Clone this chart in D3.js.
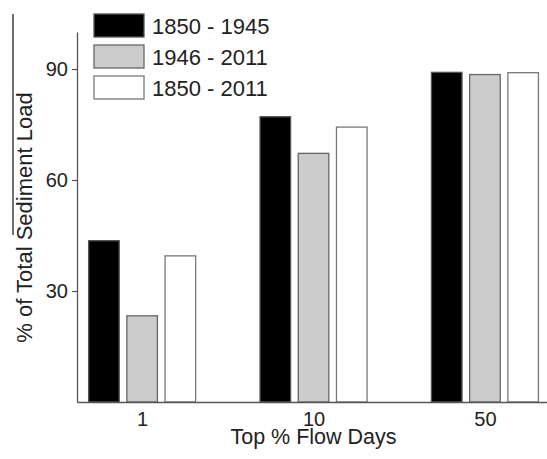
<!DOCTYPE html>
<html>
<head>
<meta charset="utf-8">
<script src="https://cdn.jsdelivr.net/npm/d3@7"></script>
<style>
  html, body { margin: 0; padding: 0; background: #fff; }
  svg { display: block; font-family: "Liberation Sans", Arial, sans-serif; }
</style>
</head>
<body>
<div id="chart"></div>
<script>
// data
var categories = ["1", "10", "50"];
var seriesNames = ["1850 - 1945", "1946 - 2011", "1850 - 2011"];
var early = [43.6, 77.1, 89.1];
var late = [23.3, 67.2, 88.5];
var full = [39.5, 74.3, 89.0];
var yTicks = [30, 60, 90];

var fills = ["#000000", "#cccccc", "#ffffff"];
var strokes = ["#555555", "#666666", "#777777"];

var width = 547, height = 459;
var plotLeft = 77, plotBottom = 402, plotTop = 32;
var groupStep = 171.4;

var svg = d3.select("#chart")
  .append("svg")
  .attr("width", width)
  .attr("height", height);

/* Scales */
var x = d3.scaleLinear()
  .domain([0.62, 3.5])
  .range([plotLeft, plotLeft + 2.88 * groupStep]);

var x1 = d3.scaleBand()
  .domain(d3.range(seriesNames.length))
  .range([-53.5, 53.5])
  .paddingInner(0.2)
  .paddingOuter(0);

var y = d3.scaleLinear()
  .domain([0, 100])
  .range([plotBottom, plotTop]);

var series = [early, late, full];

/* Bars */
var groups = svg.append("g")
  .selectAll("g")
  .data(categories)
  .enter()
  .append("g")
  .attr("transform", (d, i) => `translate(${x(i + 1)},0)`);

groups.selectAll("rect")
  .data((d, i) => series.map((s, k) => ({ k: k, v: s[i] })))
  .enter()
  .append("rect")
  .attr("x", d => x1(d.k))
  .attr("width", x1.bandwidth())
  .attr("y", d => y(d.v))
  .attr("height", d => y(0) - y(d.v))
  .attr("fill", d => fills[d.k])
  .attr("stroke", d => strokes[d.k])
  .attr("stroke-width", 1.3);

/* Axes */
var yAxis = d3.axisLeft(y).tickValues(yTicks).tickSize(5).tickSizeOuter(0).tickPadding(4);
var xAxis = d3.axisBottom(x).tickValues([1, 2, 3])
  .tickFormat((d, i) => categories[i])
  .tickSize(0).tickSizeOuter(0).tickPadding(10);

var gy = svg.append("g")
  .attr("transform", `translate(${plotLeft},0)`)
  .call(yAxis);

var gx = svg.append("g")
  .attr("transform", `translate(0,${plotBottom})`)
  .call(xAxis);

[gx, gy].forEach(function(g) {
  g.attr("font-size", null).attr("font-family", null);
  g.select(".domain").attr("stroke", "#555").attr("stroke-width", 1.3);
  g.selectAll(".tick line").attr("stroke", "#555").attr("stroke-width", 1.2);
  g.selectAll(".tick text")
    .attr("fill", "#222")
    .style("font-size", "20px");
});

/* Axis titles */
svg.append("text")
  .attr("x", 313.5)
  .attr("y", 444)
  .attr("text-anchor", "middle")
  .attr("fill", "#222")
  .style("font-size", "21.5px")
  .text("Top % Flow Days");

svg.append("text")
  .attr("transform", "translate(32,217.5) rotate(-90)")
  .attr("text-anchor", "middle")
  .attr("fill", "#222")
  .style("font-size", "22px")
  .text("% of Total Sediment Load");

// stray box edge visible in the figure
svg.append("line")
  .attr("x1", 13).attr("x2", 13)
  .attr("y1", 14).attr("y2", 235)
  .attr("stroke", "#222")
  .attr("stroke-width", 1.3);

/* Legend */
var legend = svg.append("g")
  .selectAll("g")
  .data(seriesNames)
  .enter()
  .append("g")
  .attr("transform", (d, i) => `translate(94,${14 + i * 31})`);

legend.append("rect")
  .attr("width", 50)
  .attr("height", 23)
  .attr("fill", (d, i) => fills[i])
  .attr("stroke", (d, i) => strokes[i])
  .attr("stroke-width", 1.3);

legend.append("text")
  .attr("x", 58)
  .attr("y", 19.5)
  .attr("fill", "#222")
  .style("font-size", "22px")
  .text(d => d);
</script>
</body>
</html>
